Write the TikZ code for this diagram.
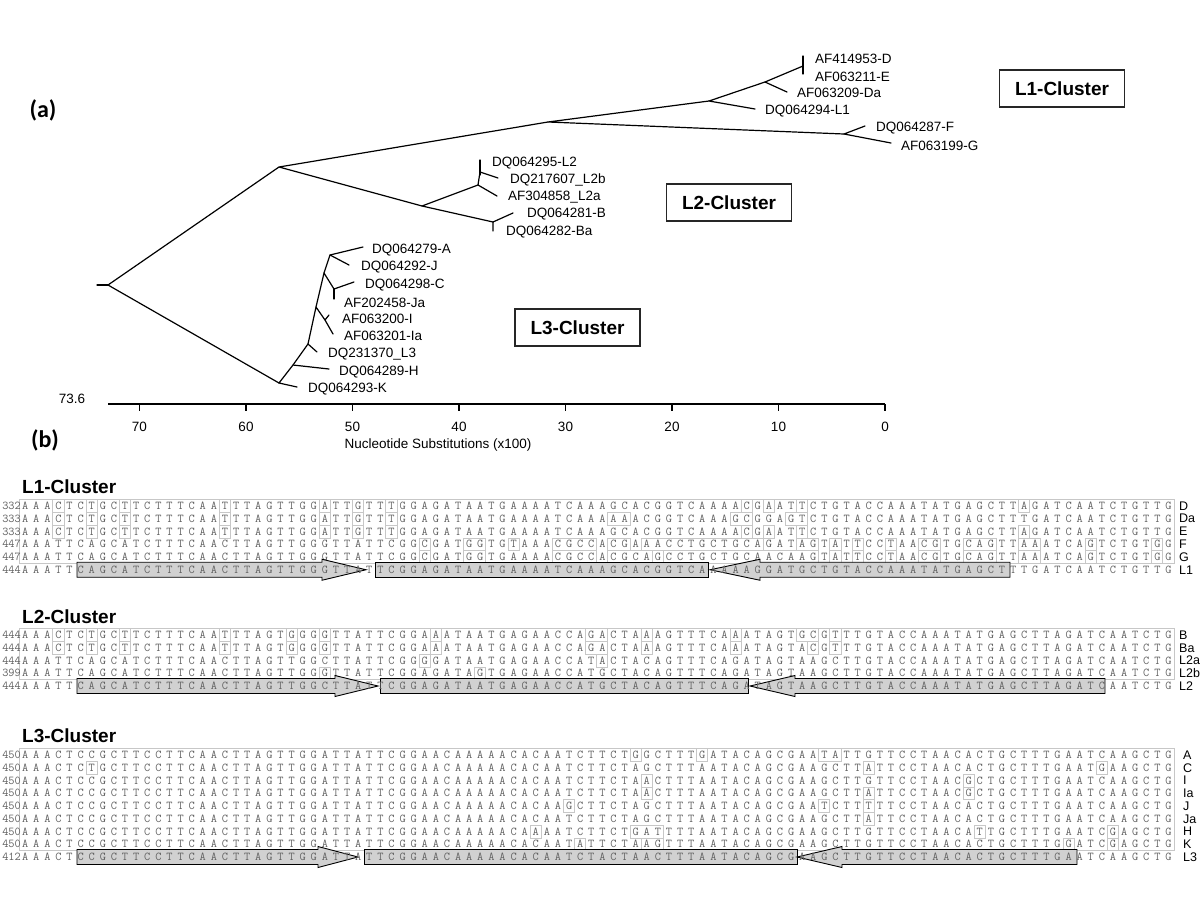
\documentclass[tikz,border=0pt]{standalone}
\usepackage{fontspec}
\setmainfont{Liberation Sans}
\newfontfamily\capfont{Carlito}
\usetikzlibrary{calc}

\def\sx{25}
\def\pw{11.1}
\def\labx{1179}
\def\seqtext#1{\expandafter\seqloop#1\relax}
\def\seqloop#1{\ifx#1\relax\else\makebox[11.1pt][c]{#1}\expandafter\seqloop\fi}

\newcommand\rsmm[3]{\draw[mmbox] ({\sx+(#2)*\pw-\pw/2},{#1-6.4}) rectangle ({\sx+(#3)*\pw+\pw/2},{#1+6.4});}

\ExplSyntaxOn
\int_new:N \l__rs_start_int
\str_new:N \l__rs_row_str
\str_new:N \l__rs_con_str
\cs_new_protected:Npn \rs_boxes:nnn #1#2#3
  {
    \str_set:Nx \l__rs_row_str {#2}
    \str_set:Nx \l__rs_con_str {#3}
    \int_set:Nn \l__rs_start_int { -1 }
    \int_step_inline:nn { \str_count:N \l__rs_row_str }
      {
        \str_if_eq:eeTF { \str_item:Nn \l__rs_row_str {##1} } { \str_item:Nn \l__rs_con_str {##1} }
          {
            \int_compare:nNnT { \l__rs_start_int } > { -1 }
              {
                \use:e { \exp_not:N \rsmm {#1} { \int_use:N \l__rs_start_int } { \int_eval:n { ##1 - 2 } } }
                \int_set:Nn \l__rs_start_int { -1 }
              }
          }
          {
            \int_compare:nNnT { \l__rs_start_int } = { -1 }
              { \int_set:Nn \l__rs_start_int { ##1 - 1 } }
          }
      }
    \int_compare:nNnT { \l__rs_start_int } > { -1 }
      { \use:e { \exp_not:N \rsmm {#1} { \int_use:N \l__rs_start_int } { \int_eval:n { \str_count:N \l__rs_row_str - 1 } } } }
  }
\NewDocumentCommand \MMboxes { m m m } { \rs_boxes:nnn {#1} {#2} {#3} }
\ExplSyntaxOff

\tikzset{
 tree/.style={line width=1.2pt, line cap=round, line join=round, black},
 leaf/.style={anchor=west, inner sep=0pt, font=\fontsize{13.5}{15}\selectfont},
 clbox/.style={draw=black!85, line width=1.1pt, minimum width=125pt, minimum height=37pt, inner sep=0pt, font=\bfseries\fontsize{19}{22}\selectfont},
 hdr/.style={anchor=west, inner sep=0pt, font=\bfseries\fontsize{19}{22}\selectfont},
 panel/.style={inner sep=0pt, font=\capfont\bfseries\fontsize{24}{28}\selectfont},
 axlab/.style={inner sep=0pt, font=\fontsize{13.5}{15}\selectfont},
 axisline/.style={line width=1.2pt, black},
 numst/.style={anchor=base east, inner sep=0pt, text=black!62, font=\ttfamily\fontsize{12}{12}\selectfont},
 seqst/.style={anchor=base west, inner sep=0pt, text=black!62, font=\ttfamily\fontsize{12}{12}\selectfont},
 labst/.style={anchor=west, inner sep=0pt, font=\fontsize{12.5}{14}\selectfont},
 mmbox/.style={draw=black!22, line width=0.6pt},
 frame/.style={draw=black!22, line width=0.6pt},
 primer/.style={draw=black, fill=black!18, line width=0.9pt, line join=miter},
}

\newcommand\seqrow[5]{%
  \MMboxes{#1}{#4}{#5}
  \node[numst] (num-#3) at (21,{#1+3.6}) {#2};
  \node[seqst] (seq-#3) at ({\sx-\pw/2},{#1+3.6}) {\seqtext{#4}};
  \node[labst] (lab-#3) at (\labx,#1) {#3};
}
\newcommand\primrow[4]{%
  \node[numst] (num-#3) at (21,{#1+3.6}) {#2};
  \node[seqst] (seq-#3) at ({\sx-\pw/2},{#1+3.6}) {\seqtext{#4}};
  \node[labst] (lab-#3) at (\labx,#1) {#3};
}
\newcommand\rarr[4]{\path[primer] (#2,{#1-7.5}) -- (#3,{#1-7.5}) -- (#3,{#1-10.5}) -- (#4,#1) -- (#3,{#1+10.5}) -- (#3,{#1+7.5}) -- (#2,{#1+7.5}) -- cycle;}
\newcommand\larr[4]{\path[primer] (#4,{#1-7.5}) -- (#3,{#1-7.5}) -- (#3,{#1-10.5}) -- (#2,#1) -- (#3,{#1+10.5}) -- (#3,{#1+7.5}) -- (#4,{#1+7.5}) -- cycle;}
\newcommand\pbox[3]{\path[primer] (#2,{#1-7.5}) rectangle (#3,{#1+7.5});}
\newcommand\blockframe[2]{\draw[frame] ({\sx-\pw/2},{#1-6.4}) rectangle ({\sx+103.5*\pw},{#2+6.4});}

\def\sD{AAACTCTGCTTCTTTCAATTTAGTTGGATTGTTTGGAGATAATGAAAATCAAAGCACGGTCAAAACGAATTCTGTACCAAATATGAGCTTAGATCAATCTGTTG}
\def\sDa{AAACTCTGCTTCTTTCAATTTAGTTGGATTGTTTGGAGATAATGAAAATCAAAAAACGGTCAAAGCGGAGTCTGTACCAAATATGAGCTTTGATCAATCTGTTG}
\def\sF{AAATTCAGCATCTTTCAACTTAGTTGGGTTATTCGGCGATGGTGTAAACGCCACGAAACCTGCTGCAGATAGTATTCCTAACGTGCAGTTAAATCAGTCTGTGG}
\def\sG{AAATTCAGCATCTTTCAACTTAGTTGGGTTATTCGGCGATGGTGAAAACGCCACGCAGCCTGCTGCAACAAGTATTCCTAACGTGCAGTTAAATCAGTCTGTGG}
\def\sLa{AAATTCAGCATCTTTCAACTTAGTTGGGTTATTCGGAGATAATGAAAATCAAAGCACGGTCAAAAAGGATGCTGTACCAAATATGAGCTTTGATCAATCTGTTG}
\def\sB{AAACTCTGCTTCTTTCAATTTAGTGGGGTTATTCGGAAATAATGAGAACCAGACTAAAGTTTCAAATAGTGCGTTTGTACCAAATATGAGCTTAGATCAATCTG}
\def\sBa{AAACTCTGCTTCTTTCAATTTAGTGGGGTTATTCGGAAATAATGAGAACCAGACTAAAGTTTCAAATAGTACGTTTGTACCAAATATGAGCTTAGATCAATCTG}
\def\sLIIa{AAATTCAGCATCTTTCAACTTAGTTGGCTTATTCGGGGATAATGAGAACCATACTACAGTTTCAGATAGTAAGCTTGTACCAAATATGAGCTTAGATCAATCTG}
\def\sLIIb{AAATTCAGCATCTTTCAACTTAGTTGGGTTATTCGGAGATAGTGAGAACCATGCTACAGTTTCAGATAGTAAGCTTGTACCAAATATGAGCTTAGATCAATCTG}
\def\sLb{AAATTCAGCATCTTTCAACTTAGTTGGCTTATTCGGAGATAATGAGAACCATGCTACAGTTTCAGATAGTAAGCTTGTACCAAATATGAGCTTAGATCAATCTG}
\def\sA{AAACTCCGCTTCCTTCAACTTAGTTGGATTATTCGGAACAAAAACACAATCTTCTGGCTTTGATACAGCGAATATTGTTCCTAACACTGCTTTGAATCAAGCTG}
\def\sC{AAACTCTGCTTCCTTCAACTTAGTTGGATTATTCGGAACAAAAACACAATCTTCTAGCTTTAATACAGCGAAGCTTATTCCTAACACTGCTTTGAATGAAGCTG}
\def\sI{AAACTCCGCTTCCTTCAACTTAGTTGGATTATTCGGAACAAAAACACAATCTTCTAACTTTAATACAGCGAAGCTTGTTCCTAACGCTGCTTTGAATCAAGCTG}
\def\sIa{AAACTCCGCTTCCTTCAACTTAGTTGGATTATTCGGAACAAAAACACAATCTTCTAACTTTAATACAGCGAAGCTTATTCCTAACGCTGCTTTGAATCAAGCTG}
\def\sJ{AAACTCCGCTTCCTTCAACTTAGTTGGATTATTCGGAACAAAAACACAAGCTTCTAGCTTTAATACAGCGAATCTTTTTCCTAACACTGCTTTGAATCAAGCTG}
\def\sJa{AAACTCCGCTTCCTTCAACTTAGTTGGATTATTCGGAACAAAAACACAATCTTCTAGCTTTAATACAGCGAAGCTTATTCCTAACACTGCTTTGAATCAAGCTG}
\def\sH{AAACTCCGCTTCCTTCAACTTAGTTGGATTATTCGGAACAAAAACAAAATCTTCTGATTTTAATACAGCGAAGCTTGTTCCTAACATTGCTTTGAATCGAGCTG}
\def\sK{AAACTCCGCTTCCTTCAACTTAGTTGGATTATTCGGAACAAAAACACAATATTCTAAGTTTAATACAGCGAAGCTTGTTCCTAACACTGCTTTGGATCGAGCTG}
\def\sLc{AAACTCCGCTTCCTTCAACTTAGTTGGATTATTCGGAACAAAAACACAATCTACTAACTTTAATACAGCGAAGCTTGTTCCTAACACTGCTTTGAATCAAGCTG}
\def\sLcons{AAACTCCGCTTCCTTCAACTTAGTTGGATTATTCGGAACAAAAACACAATCTTCTAGCTTTAATACAGCGAAGCTTGTTCCTAACACTGCTTTGAATCAAGCTG}

\begin{document}
\begin{tikzpicture}[x=1pt,y=-1pt]
\fill[white] (0,0) rectangle (1200,898);
\useasboundingbox (0,0) rectangle (1200,898);

% ---------- panel labels ----------
\node[panel] (pa) at (43,110) {(a)};
\node[panel] (pb) at (45,440) {(b)};

% ---------- tree coordinates ----------
\coordinate (S) at (97,285);
\coordinate (R) at (108,285);
\coordinate (A1) at (279,167);
\coordinate (A3) at (279,383);
\coordinate (L2anc) at (422,206);
\coordinate (L1anc) at (548,122);
\coordinate (n1) at (709,101);
\coordinate (n3) at (765,82);
\coordinate (n4) at (803,66);
\coordinate (eL1) at (755,109);
\coordinate (eDa) at (787,92);
\coordinate (bD) at (803,56);
\coordinate (bE) at (803,74);
\coordinate (FG) at (844,134);
\coordinate (eF) at (865,126);
\coordinate (eG) at (891,143);
\coordinate (n5) at (478,185);
\coordinate (n7) at (480,172);
\coordinate (bL2) at (480,160);
\coordinate (bL2e) at (480,175);
\coordinate (eL2b) at (498,178);
\coordinate (eL2a) at (497,196);
\coordinate (n6) at (493,222);
\coordinate (eB) at (513,213);
\coordinate (eBa) at (493,231);
\coordinate (eK) at (297,387);
\coordinate (n8) at (293,365);
\coordinate (eH) at (329,369);
\coordinate (n9) at (308,344);
\coordinate (eL3) at (317,352);
\coordinate (n10) at (316,307);
\coordinate (n11) at (325,320);
\coordinate (eI) at (329,315);
\coordinate (eIa) at (333,334);
\coordinate (n12) at (324,273);
\coordinate (n13) at (334,289);
\coordinate (eC) at (354,282);
\coordinate (eJa) at (334,299);
\coordinate (n14) at (330,255);
\coordinate (eA) at (363,247);
\coordinate (eJ) at (349,265);

\draw[tree] (S) -- (R);
\draw[tree] (A1) -- (R) -- (A3);
\draw[tree] (L1anc) -- (A1) -- (L2anc);
\draw[tree] (n1) -- (L1anc) -- (FG);
\draw[tree] (eL1) -- (n1) -- (n3) -- (n4);
\draw[tree] (n3) -- (eDa);
\draw[tree] (bD) -- (bE);
\draw[tree] (eF) -- (FG) -- (eG);
\draw[tree] (n5) -- (L2anc) -- (n6);
\draw[tree] (eL2a) -- (n5) -- (n7) -- (eL2b);
\draw[tree] (bL2) -- (bL2e);
\draw[tree] (eB) -- (n6) -- (eBa);
\draw[tree] (eK) -- (A3) -- (n8) -- (eH);
\draw[tree] (n8) -- (n9) -- (eL3);
\draw[tree] (n9) -- (n10) -- (n11) -- (eIa);
\draw[tree] (n11) -- (eI);
\draw[tree] (n10) -- (n12) -- (n13) -- (eC);
\draw[tree] (n13) -- (eJa);
\draw[tree] (n12) -- (n14) -- (eA);
\draw[tree] (n14) -- (eJ);

% ---------- leaf labels ----------
\node[leaf] (lD) at (815,59) {AF414953-D};
\node[leaf] (lE) at (815,77) {AF063211-E};
\node[leaf] (lDa) at (797,93) {AF063209-Da};
\node[leaf] (lL1) at (765,111) {DQ064294-L1};
\node[leaf] (lF) at (876,128) {DQ064287-F};
\node[leaf] (lG) at (901,146) {AF063199-G};
\node[leaf] (lL2) at (492,163) {DQ064295-L2};
\node[leaf] (lL2b) at (510,180) {DQ217607\_L2b};
\node[leaf] (lL2a) at (508,197) {AF304858\_L2a};
\node[leaf] (lB) at (527,214) {DQ064281-B};
\node[leaf] (lBa) at (506,232) {DQ064282-Ba};
\node[leaf] (lA) at (372,250) {DQ064279-A};
\node[leaf] (lJ) at (361,267) {DQ064292-J};
\node[leaf] (lC) at (365,285) {DQ064298-C};
\node[leaf] (lJa) at (344,303) {AF202458-Ja};
\node[leaf] (lI) at (342,319) {AF063200-I};
\node[leaf] (lIa) at (344,336) {AF063201-Ia};
\node[leaf] (lL3) at (328,354) {DQ231370\_L3};
\node[leaf] (lH) at (339,372) {DQ064289-H};
\node[leaf] (lK) at (308,389) {DQ064293-K};

% ---------- cluster boxes ----------
\node[clbox] (c1) at (1062,88.5) {L1-Cluster};
\node[clbox] (c2) at (729,202.5) {L2-Cluster};
\node[clbox] (c3) at (577.5,327.5) {L3-Cluster};

% ---------- axis ----------
\coordinate (ax0) at (108,404);
\coordinate (ax1) at (885,404);
\draw[axisline] (ax0) -- (ax1);
\foreach \v in {70,60,50,40,30,20,10,0}{
  \coordinate (tk\v) at ({885-10.65*\v},404);
  \draw[axisline] (tk\v) -- ++(0,7);
  \node[axlab] (tl\v) at ({885-10.65*\v},427) {\v};
}
\node[axlab] (rootval) at (72,399) {73.6};
\node[axlab] (axtitle) at (438,445) {Nucleotide Substitutions (x100)};

% ---------- (b) L1 block ----------
\node[hdr] (h1) at (22,487) {L1-Cluster};
\blockframe{506}{557}
\seqrow{506}{332}{D}{\sD}{\sLa}
\seqrow{518.75}{333}{Da}{\sDa}{\sLa}
\seqrow{531.5}{333}{E}{\sD}{\sLa}
\seqrow{544.25}{447}{F}{\sF}{\sLa}
\seqrow{557}{447}{G}{\sG}{\sLa}
\rarr{569.75}{77}{322}{366}
\pbox{569.75}{375}{708}
\larr{569.75}{710}{760}{1010}
\primrow{569.75}{444}{L1}{\sLa}

% ---------- L2 block ----------
\node[hdr] (h2) at (22,617) {L2-Cluster};
\blockframe{635}{673.25}
\seqrow{635}{444}{B}{\sB}{\sLb}
\seqrow{647.75}{444}{Ba}{\sBa}{\sLb}
\seqrow{660.5}{444}{L2a}{\sLIIa}{\sLb}
\seqrow{673.25}{399}{L2b}{\sLIIb}{\sLb}
\rarr{686}{77}{335}{378}
\pbox{686}{380}{748}
\larr{686}{750}{795}{1105}
\primrow{686}{444}{L2}{\sLb}

% ---------- L3 block ----------
\def\labx{1183}
\node[hdr] (h3) at (22,736) {L3-Cluster};
\blockframe{755}{844.25}
\seqrow{755}{450}{A}{\sA}{\sLcons}
\seqrow{767.75}{450}{C}{\sC}{\sLcons}
\seqrow{780.5}{450}{I}{\sI}{\sLcons}
\seqrow{793.25}{450}{Ia}{\sIa}{\sLcons}
\seqrow{806}{450}{J}{\sJ}{\sLcons}
\seqrow{818.75}{450}{Ja}{\sJa}{\sLcons}
\seqrow{831.5}{450}{H}{\sH}{\sLcons}
\seqrow{844.25}{450}{K}{\sK}{\sLcons}
\rarr{857}{77}{318}{358}
\pbox{857}{364}{797}
\larr{857}{797}{842}{1077}
\primrow{857}{412}{L3}{\sLc}
\end{tikzpicture}
\end{document}
